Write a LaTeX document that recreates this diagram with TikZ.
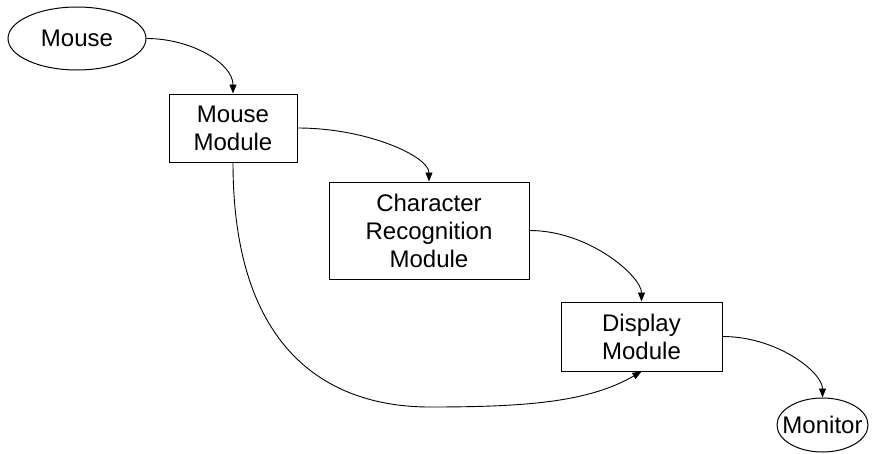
\documentclass[tikz,border=0pt]{standalone}
\usepackage{fontspec}
\setmainfont{Liberation Sans}
\usetikzlibrary{shapes.geometric,arrows.meta}
\begin{document}
\begin{tikzpicture}[x=1pt,y=-1pt,
  every node/.style={font=\fontsize{24}{28}\selectfont, align=center},
  modbox/.style={draw, line width=1pt, rectangle, inner sep=0pt},
  endpt/.style={draw, line width=1pt, ellipse, inner sep=0pt},
  flow/.style={line width=0.9pt, -{Triangle[length=9pt,width=7pt]}}
]
\useasboundingbox (0,0) rectangle (873,453);
\node[endpt, minimum width=138pt, minimum height=63pt] (mouse) at (77,38.5) {};
\node (mousetxt) at (mouse.center) {Mouse};
\node[modbox, minimum width=128pt, minimum height=68pt] (mm) at (233,128) {Mouse\\Module};
\node[modbox, minimum width=200pt, minimum height=97pt] (cr) at (429,230.5) {Character\\Recognition\\Module};
\node[modbox, minimum width=161pt, minimum height=69pt] (disp) at (641.5,336.5) {Display\\Module};
\node[endpt, minimum width=91pt, minimum height=54pt] (mon) at (822.5,425) {};
\node (montxt) at (mon.center) {Monitor};
\coordinate (low) at (430,407);

\draw[flow] (mouse.east) .. controls +(45,0) and +(0,-30) .. (mm.north);
\draw[flow] (mm.east) .. controls +(70,0) and +(0,-25) .. (cr.north);
\draw[flow] (cr.east) .. controls +(60,0) and +(0,-25) .. (disp.north);
\draw[flow] (disp.east) .. controls +(55,0) and +(0,-25) .. (mon.north);
\draw[flow] (mm.south) .. controls +(0,190) and +(-100,0) .. (low)
  .. controls +(100,0) and +(-52,30) .. (disp.south);
\end{tikzpicture}
\end{document}
